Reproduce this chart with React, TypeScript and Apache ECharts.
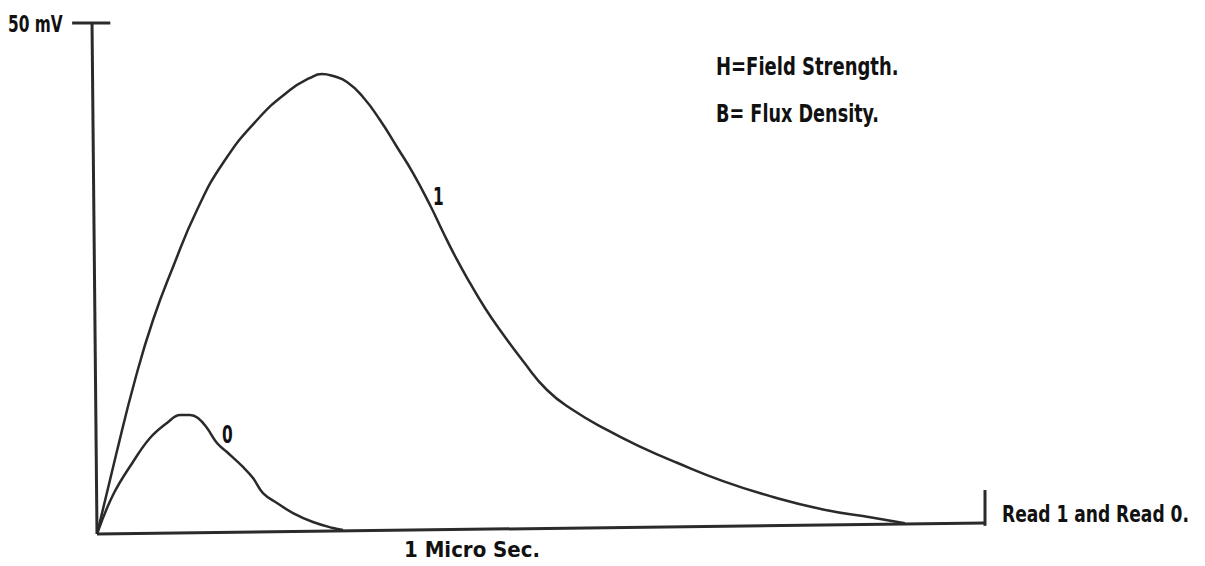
import React, { useEffect, useRef } from "react";
import * as echarts from "echarts";

// x: time in arbitrary units (0..100 spans the drawn axis), y: output in mV
const read1: [number, number][] = [
  [0, 0], [2.14, 7.73], [4.28, 15.07], [6.31, 20.94], [8.56, 26.13], [11.26, 31.7],
  [14.19, 36.3], [18.02, 40.51], [21.73, 43.44], [23.99, 44.62], [25.34, 45.01],
  [26.58, 44.81], [28.15, 44.23], [29.95, 42.76], [31.87, 40.51], [33.78, 37.87],
  [35.59, 35.32], [37.5, 32.19], [38.96, 29.55], [40.43, 27.01], [42.0, 24.56],
  [43.69, 22.11], [45.38, 19.96], [47.97, 16.93], [50.68, 14.09], [53.6, 12.13],
  [57.43, 10.18], [61.15, 8.56], [65.32, 6.97], [70.5, 5.18], [76.13, 3.62],
  [81.76, 2.4], [87.39, 1.59], [90.99, 1.05],
];

const read0: [number, number][] = [
  [0, 0], [1.8, 3.82], [4.05, 7.05], [5.97, 9.39], [7.88, 10.86], [9.35, 11.64],
  [10.47, 11.64], [11.37, 11.35], [12.39, 10.37], [13.51, 8.9], [14.64, 8.02],
  [16.44, 6.56], [17.57, 5.48], [18.69, 4.01], [20.27, 3.03], [22.07, 2.05],
  [24.32, 1.17], [26.58, 0.59], [27.7, 0.39],
];

const baseLine: [number, number][] = [[0, 0], [100, 1.08]];
const yAxisLine: [number, number][] = [[0, 0], [-0.56, 50]];
const topTick: [number, number][] = [[-2.8, 50], [1.5, 50]];
const endTick: [number, number][] = [[100, 0.8], [100, 4.3]];

const yMaxLabel = "50 mV";
const xLabel = "1 Micro Sec.";
const endLabel = "Read 1 and Read 0.";
const legendLines = ["H=Field Strength.", "B= Flux Density."];
const curveLabels = ["1", "0"];

const FONT = "'DejaVu Sans Condensed', 'Liberation Sans Narrow', 'DejaVu Sans', sans-serif";

export default function App() {
  const ref = useRef<HTMLDivElement>(null);
  useEffect(() => {
    document.body.style.margin = "0";
    const chart = echarts.init(ref.current!, null, { renderer: "svg" });
    const axisStyle = (data: [number, number][]) => ({
      type: "line",
      data,
      showSymbol: false,
      clip: false,
      silent: true,
      lineStyle: { color: "#2b2b2b", width: 3 },
      z: 3,
    });
    const txt = (
      text: string,
      x: number,
      y: number,
      size: number,
      sx = 1,
      sy = 1
    ) => ({
      type: "text",
      x,
      y,
      scaleX: sx,
      scaleY: sy,
      style: {
        text,
        fill: "#111",
        font: `bold ${size}px ${FONT}`,
        textAlign: "left",
        textVerticalAlign: "middle",
      },
    });
    chart.setOption({
      animation: false,
      backgroundColor: "#ffffff",
      grid: { left: 70.36, right: 220, top: 23, bottom: 32 },
      xAxis: { type: "value", min: -3, max: 100, show: false },
      yAxis: { type: "value", min: 0, max: 50, show: false },
      series: [
        axisStyle(baseLine),
        axisStyle(yAxisLine),
        axisStyle(topTick),
        axisStyle(endTick),
        {
          type: "line",
          name: "Read 1",
          data: read1,
          smooth: 0.5,
          showSymbol: false,
          clip: false,
          lineStyle: { color: "#2a2a2a", width: 2.5 },
        },
        {
          type: "line",
          name: "Read 0",
          data: read0,
          smooth: 0.4,
          showSymbol: false,
          clip: false,
          lineStyle: { color: "#2a2a2a", width: 2.5 },
        },
      ],
      graphic: [
        txt(yMaxLabel, 8, 24, 18, 0.95, 1.3),
        txt(legendLines[0], 716, 66, 20, 1.0, 1.2),
        txt(legendLines[1], 716, 114, 20, 0.98, 1.2),
        txt(curveLabels[0], 433, 196, 19, 0.9, 1.3),
        txt(curveLabels[1], 222, 434, 19, 0.9, 1.3),
        txt(endLabel, 1002, 514, 19, 1.0, 1.23),
        txt(xLabel, 404, 549, 22, 1.0, 1.0),
      ],
    });
    return () => chart.dispose();
  }, []);
  return (
    <div
      ref={ref}
      style={{ position: "absolute", left: 0, top: 0, width: 1205, height: 566 }}
    />
  );
}
